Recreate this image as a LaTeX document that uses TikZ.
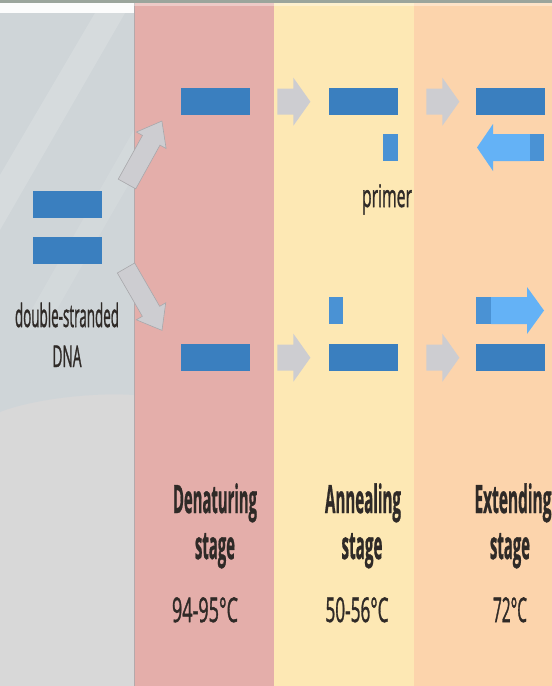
\documentclass[tikz,border=0pt]{standalone}
\usepackage{fontspec}
\setmainfont{Open Sans}
\newfontfamily\lblfont[FakeBold=1.6]{Open Sans}
\newfontfamily\capfont[FakeBold=1.2]{Open Sans}
\usepackage{graphicx}
\definecolor{topstrip}{HTML}{9BA59C}
\definecolor{leftgrey}{HTML}{D8D8D8}
\definecolor{leftblue}{HTML}{CFD5D8}
\definecolor{denred}{HTML}{E4AEAA}
\definecolor{annyellow}{HTML}{FDE8B4}
\definecolor{extorange}{HTML}{FCD4AC}
\definecolor{strandblue}{HTML}{3A7FBF}
\definecolor{primerblue}{HTML}{4A92D4}
\definecolor{newblue}{HTML}{64B2F6}
\definecolor{arrowgrey}{HTML}{CDCDD1}
\definecolor{arrowedge}{HTML}{A8A8AB}
\definecolor{labelink}{HTML}{2F2A27}
% condensed text: fixed width, natural height
\newcommand{\narrow}[2]{\resizebox{#1pt}{\height}{#2}}
\tikzset{
  strand/.style={rectangle, fill=strandblue, inner sep=0pt, minimum width=69pt, minimum height=27pt, anchor=north west},
  primerbox/.style={rectangle, fill=primerblue, inner sep=0pt, minimum width=15pt, minimum height=27pt, anchor=north west},
  lbl/.style={inner sep=0pt, anchor=base, text=labelink},
  harrow/.pic={\fill[arrowgrey] (0,-13) -- (16,-13) -- (16,-24) -- (33,0) -- (16,24) -- (16,13) -- (0,13) -- cycle;},
  darrow/.pic={\filldraw[fill=arrowgrey, draw=arrowedge, line width=0.6pt] (0,-10) -- (50,-10) -- (50,-17) -- (72,0) -- (50,17) -- (50,10) -- (0,10) -- cycle;}
}
\begin{document}
\begin{tikzpicture}[x=1pt, y=-1pt]
\useasboundingbox (0,0) rectangle (552,686);
% stage columns
\fill[leftgrey] (0,0) rectangle (134,686);
\fill[leftblue] (0,13) -- (134,13) -- (134,395) .. controls (90,392) and (30,400) .. (0,412) -- cycle;
\fill[white, opacity=0.15] (0,175) -- (95,13) -- (125,13) -- (0,230) -- cycle;
\fill[white, opacity=0.10] (20,330) -- (134,130) -- (134,175) -- (45,330) -- cycle;
\fill[denred] (134,0) rectangle (274,686);
\fill[annyellow] (274,0) rectangle (414,686);
\fill[extorange] (414,0) rectangle (552,686);
\draw[line width=0.8pt, color=arrowedge!80!denred] (134,0) -- (134,686);
\fill[white!92!leftgrey] (0,3) rectangle (134,13);
\fill[white, opacity=0.35] (134,3) rectangle (552,6);
\fill[topstrip] (0,0) rectangle (552,3);

% double-stranded DNA
\node[strand] (dnaA) at (33,191) {};
\node[strand] (dnaB) at (33,237) {};
\node[lbl] (dnalbl1) at (67,327) {\lblfont\fontsize{32}{34}\selectfont\narrow{104}{double-stranded}};
\node[lbl] (dnalbl2) at (67,367) {\lblfont\fontsize{30}{32}\selectfont\narrow{29}{DNA}};

% denaturing: separated strands
\node[strand] (denA) at (181,88) {};
\node[strand] (denB) at (181,344) {};
\pic[rotate=61] at (127,184) {darrow};
\pic[rotate=-60] at (126,268) {darrow};

% annealing: primers attach
\node[strand] (annA) at (329,88) {};
\node[primerbox] (primA) at (383,134) {};
\node[strand] (annB) at (329,344) {};
\node[primerbox, minimum width=14pt] (primB) at (329,297) {};
\node[lbl] (primlbl) at (387,207) {\lblfont\fontsize{31}{33}\selectfont\narrow{50}{primer}};
\pic at ([xshift=27pt]denA.east) {harrow};
\pic at ([xshift=27pt]denB.east) {harrow};

% extending: new strands grow from primers
\node[strand] (extA) at (476,88) {};
\node[strand] (extB) at (476,344) {};
\fill[newblue] (530,134) -- (493,134) -- (493,124) -- (477,147.5) -- (493,171) -- (493,161) -- (530,161) -- cycle;
\node[primerbox, minimum width=14pt] (primC) at (530,134) {};
\fill[newblue] (491,297) -- (527,297) -- (527,287) -- (544,310.5) -- (527,334) -- (527,324) -- (491,324) -- cycle;
\node[primerbox] (primD) at (476,297) {};
\pic at ([xshift=28pt]annA.east) {harrow};
\pic at ([xshift=28pt]annB.east) {harrow};

% stage captions
\node[lbl] (denT1) at (215,513) {\capfont\bfseries\fontsize{39}{41}\selectfont\narrow{84}{Denaturing}};
\node[lbl] (denT2) at (215,559) {\capfont\bfseries\fontsize{39}{41}\selectfont\narrow{40}{stage}};
\node[lbl] (denT3) at (205,622) {\lblfont\fontsize{34}{36}\selectfont\narrow{66}{94-95°C}};
\node[lbl] (annT1) at (363,513) {\capfont\bfseries\fontsize{39}{41}\selectfont\narrow{76}{Annealing}};
\node[lbl] (annT2) at (362,559) {\capfont\bfseries\fontsize{39}{41}\selectfont\narrow{41}{stage}};
\node[lbl] (annT3) at (357,622) {\lblfont\fontsize{34}{36}\selectfont\narrow{63}{50-56°C}};
\node[lbl] (extT1) at (513,513) {\capfont\bfseries\fontsize{39}{41}\selectfont\narrow{77}{Extending}};
\node[lbl] (extT2) at (510,559) {\capfont\bfseries\fontsize{39}{41}\selectfont\narrow{40}{stage}};
\node[lbl] (extT3) at (510,622) {\lblfont\fontsize{34}{36}\selectfont\narrow{34}{72°C}};
\end{tikzpicture}
\end{document}
